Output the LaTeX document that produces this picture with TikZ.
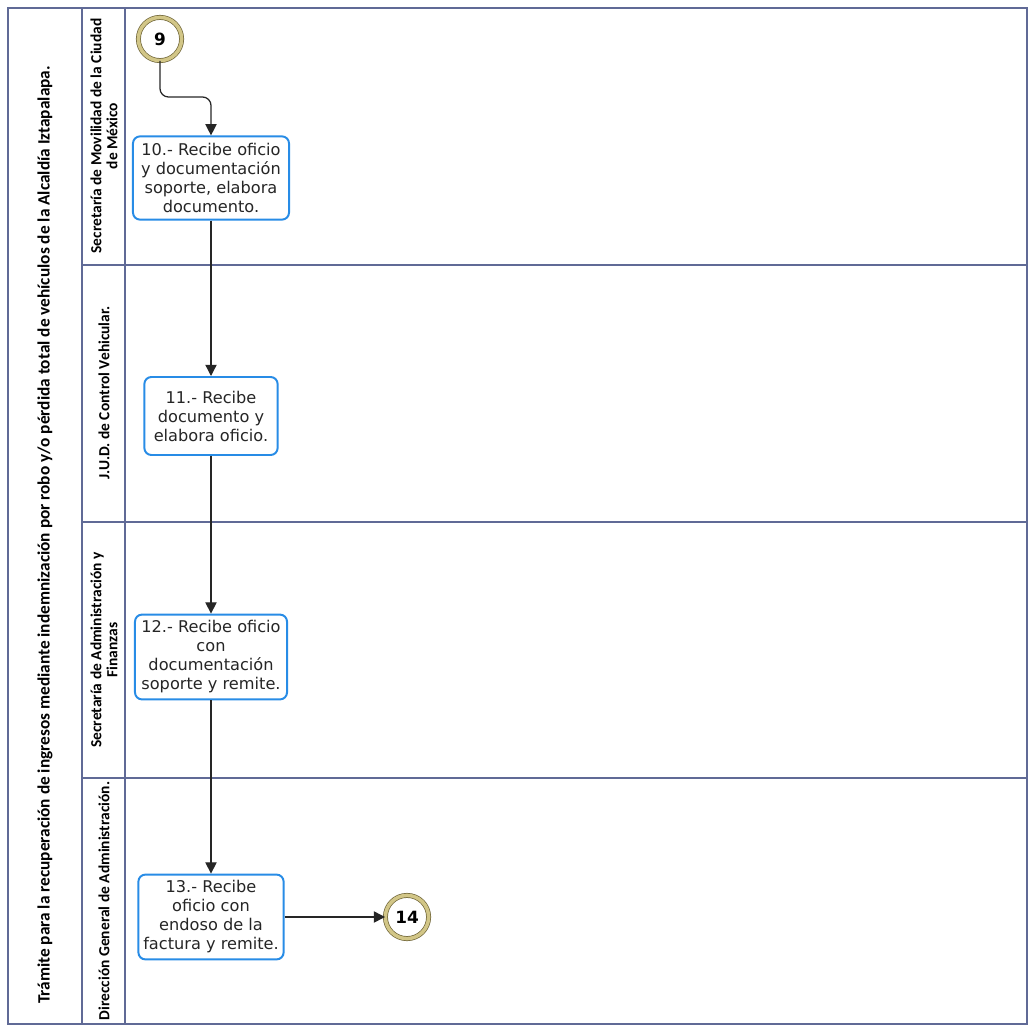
\documentclass[tikz,border=0pt]{standalone}
\usepackage{fontspec}
\setmainfont{DejaVu Sans}
\newfontfamily\lanefont{Carlito}
\usetikzlibrary{arrows.meta}
\definecolor{laneline}{RGB}{96,106,150}
\definecolor{boxblue}{RGB}{40,140,230}
\definecolor{ringkhaki}{RGB}{210,198,135}
\definecolor{ringdark}{RGB}{110,100,55}
\begin{document}
\begin{tikzpicture}[x=0.025cm,y=-0.025cm,
  lane/.style={draw=laneline,line width=0.8pt},
  head/.style={rotate=90,font=\lanefont\bfseries\fontsize{11}{11.5}\selectfont,align=center,inner sep=0pt},
  task/.style={draw=boxblue,line width=1.4pt,rounded corners=5pt,fill=white,align=center,
    font=\fontsize{11.5}{13.5}\selectfont,text=black!85,inner sep=2pt},
  conn/.style={circle,draw=ringdark,double=ringkhaki,double distance=2.5pt,line width=0.5pt,
    minimum size=1.08cm,inner sep=0pt,font=\bfseries\fontsize{12}{12}\selectfont},
  flow/.style={-{Triangle[length=8pt,width=8pt]},line width=0.9pt,draw=black!85}]
  \useasboundingbox (0,0) rectangle (1028,1029);

  % frame and lanes
  \draw[lane] (8,8) rectangle (1027,1024);
  \draw[lane] (82,8) -- (82,1024);
  \draw[lane] (125,8) -- (125,1024);
  \draw[lane] (82,265) -- (1027,265);
  \draw[lane] (82,522) -- (1027,522);
  \draw[lane] (82,778) -- (1027,778);

  \node[head,font=\lanefont\bfseries\fontsize{12.3}{13}\selectfont] (title) at (45,535)
    {Trámite para la recuperación de ingresos mediante indemnización por robo y/o pérdida total de vehículos de la Alcaldía Iztapalapa.};
  \node[head] (h1) at (104,136) {Secretaría de Movilidad de la Ciudad\\de México};
  \node[head] (h2) at (104,393) {J.U.D. de Control Vehicular.};
  \node[head] (h3) at (104,650) {Secretaría de Administración y\\Finanzas};
  \node[head] (h4) at (104,901) {Dirección General de Administración.};

  \node[conn] (c9) at (160,39) {9};
  \node[task,minimum width=3.9cm,minimum height=2.08cm] (t10) at (211,178)
    {10.- Recibe oficio\\y documentación\\soporte, elabora\\documento.};
  \node[task,minimum width=3.33cm,minimum height=1.95cm] (t11) at (211,416)
    {11.- Recibe\\documento y\\elabora oficio.};
  \node[task,minimum width=3.8cm,minimum height=2.12cm] (t12) at (211,657)
    {12.- Recibe oficio\\con\\documentación\\soporte y remite.};
  \node[task,minimum width=3.63cm,minimum height=2.12cm] (t13) at (211,917)
    {13.- Recibe\\oficio con\\endoso de la\\factura y remite.};
  \node[conn] (c14) at (407,917) {14};

  \draw[flow,rounded corners=6pt] (c9) -- (c9 |- 0,97) -| (t10);
  \draw[flow] (t10) -- (t11);
  \draw[flow] (t11) -- (t12);
  \draw[flow] (t12) -- (t13);
  \draw[flow] (t13) -- (c14);
\end{tikzpicture}
\end{document}
